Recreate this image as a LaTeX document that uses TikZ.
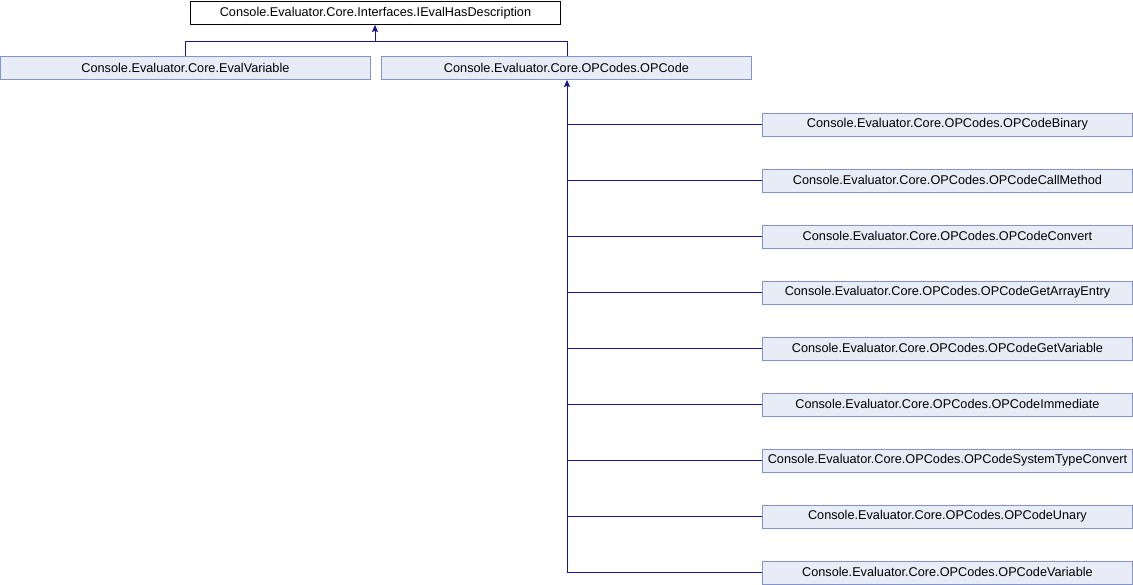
\documentclass[tikz,border=0pt]{standalone}
\usepackage{fontspec}
\setmainfont{Liberation Sans}
\usetikzlibrary{arrows.meta}
\definecolor{edgeblue}{HTML}{16168E}
\definecolor{boxfill}{HTML}{E8ECF6}
\definecolor{boxline}{HTML}{8494C8}
\begin{document}
\begin{tikzpicture}[x=1pt,y=-1pt,
  cls/.style={draw=boxline,fill=boxfill,line width=0.9pt,minimum width=370pt,minimum height=23pt,
    inner sep=0pt,font=\fontsize{12.7}{14}\selectfont,anchor=north west},
  iface/.style={cls,draw=black,fill=white},
  inherit/.style={draw=edgeblue,line width=1pt},
  tip/.style={inherit,-{Stealth[length=7pt,width=6pt,inset=1pt]}}]
\useasboundingbox (0,0) rectangle (1133,584);
\node[iface] (desc) at (190,1) {Console.Evaluator.Core.Interfaces.IEvalHasDescription};
\node[cls] (evalvar) at (0,56) {Console.Evaluator.Core.EvalVariable};
\node[cls] (opcode) at (381,56) {Console.Evaluator.Core.OPCodes.OPCode};
\foreach \n/\t [count=\i from 0] in {
  bin/OPCodeBinary, call/OPCodeCallMethod, conv/OPCodeConvert, arr/OPCodeGetArrayEntry,
  getvar/OPCodeGetVariable, imm/OPCodeImmediate, sys/OPCodeSystemTypeConvert,
  un/OPCodeUnary, var/OPCodeVariable}
  \node[cls] (\n) at (762,{112.5+56*\i}) {Console.Evaluator.Core.OPCodes.\t};
% interface hierarchy
\coordinate (join) at (375,41);
\draw[inherit] (evalvar.north -| 185,0) |- (join);
\draw[inherit] (opcode.north -| 567,0) |- (join);
\draw[tip] (join) -- (desc.south -| join);
% OPCode subclasses
\coordinate (trunk) at (567,572);
\foreach \n in {bin,call,conv,arr,getvar,imm,sys,un,var}
  \draw[inherit] (\n.west) -- (\n.west -| trunk);
\draw[tip] (trunk) -- (opcode.south -| trunk);
\end{tikzpicture}
\end{document}
